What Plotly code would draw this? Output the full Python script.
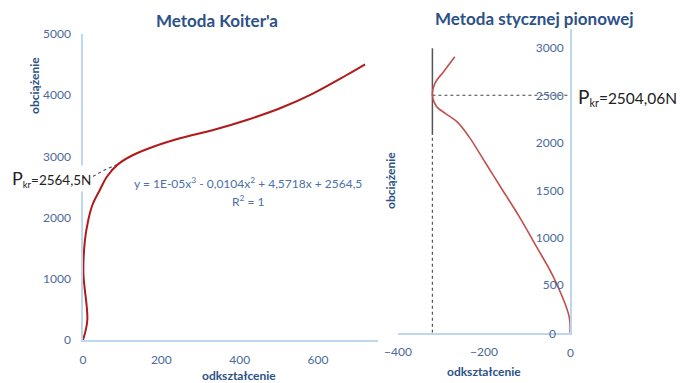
import plotly.graph_objects as go

# page body has an 8px margin, so the figure is offset by (8, 8) in the window
OFF = 8
W, H = 693 - OFF, 383 - OFF

# ---- data: left chart (Metoda Koiter'a) ----
koiter_x = [0, 11, 1, 5, 13.5, 24, 43, 60.5, 89, 128, 179.5, 247.6, 332.7, 418, 503, 588, 673, 720]
koiter_y = [0, 327, 1095, 1634, 1961, 2206, 2451, 2663, 2870, 3023, 3158, 3296, 3431, 3595, 3786, 4031, 4330, 4505]
trend_x = [0, 30, 60, 86]
trend_y = [2564.5, 2690, 2795, 2862]

# ---- data: right chart (Metoda stycznej pionowej) ----
styczna_x = [0, -2, -39, -78, -118, -157, -196, -235, -263, -290, -310, -320, -314, -294, -268]
styczna_y = [0, 169, 591, 907, 1224, 1505, 1787, 2068, 2226, 2314, 2384, 2508, 2631, 2753, 2911]
tangent_x = [-320, -320]
tangent_solid_y = [2085, 3000]
tangent_drop_y = [0, 2085]
pkr_line_x = [-320, 0]
pkr_line_y = [2504.06, 2504.06]

FONT = "Lato"
TITLE_C = "#2C5287"
TICK_C = "#4A6A9B"
AXIS_C = "#BDD7EE"

def px(x):
    return (x - OFF) / W

def py(y):
    return 1 - (y - OFF) / H

fig = go.Figure()

# left
fig.add_trace(go.Scatter(x=trend_x, y=trend_y, mode="lines",
                         line=dict(color="#555555", width=1.2, dash="dot"),
                         xaxis="x", yaxis="y", hoverinfo="skip"))
fig.add_trace(go.Scatter(x=koiter_x, y=koiter_y, mode="lines",
                         line=dict(color="#B01A1A", width=2, shape="spline", smoothing=1.0),
                         xaxis="x", yaxis="y"))

# right
fig.add_trace(go.Scatter(x=tangent_x, y=tangent_drop_y, mode="lines",
                         line=dict(color="#555555", width=1.2, dash="dot"),
                         xaxis="x2", yaxis="y2", hoverinfo="skip"))
fig.add_trace(go.Scatter(x=tangent_x, y=tangent_solid_y, mode="lines",
                         line=dict(color="#555555", width=1.5),
                         xaxis="x2", yaxis="y2", hoverinfo="skip"))
fig.add_trace(go.Scatter(x=pkr_line_x, y=pkr_line_y, mode="lines",
                         line=dict(color="#444444", width=1.1, dash="dot"),
                         xaxis="x2", yaxis="y2", hoverinfo="skip"))
fig.add_trace(go.Scatter(x=styczna_x, y=styczna_y, mode="lines",
                         line=dict(color="#C0504D", width=1.6, shape="spline", smoothing=1.0),
                         xaxis="x2", yaxis="y2"))

tickfont = dict(family=FONT, size=12, color=TICK_C)

fig.update_layout(
    width=W, height=H,
    margin=dict(l=0, r=0, t=0, b=0),
    paper_bgcolor="white", plot_bgcolor="white",
    showlegend=False,
    xaxis=dict(domain=[px(83), px(378)], range=[0, 753], dtick=200, automargin=False,
               showgrid=False, zeroline=False, showline=True, linecolor=AXIS_C, linewidth=1.5,
               ticks="outside", ticklen=8, tickcolor="rgba(0,0,0,0)", tickfont=tickfont,
               anchor="y"),
    yaxis=dict(domain=[py(340), py(34)], range=[0, 5000], dtick=1000, automargin=False,
               showgrid=False, zeroline=False, showline=True, linecolor=AXIS_C, linewidth=1.5,
               ticks="outside", ticklen=8, tickcolor="rgba(0,0,0,0)", tickfont=tickfont,
               anchor="x"),
    xaxis2=dict(domain=[px(398), px(570)], range=[-400, 0], dtick=200, automargin=False,
                showgrid=False, zeroline=False, showline=True, linecolor=AXIS_C, linewidth=1.5,
                ticks="outside", ticklen=7, tickcolor="rgba(0,0,0,0)", tickfont=tickfont,
                anchor="y2"),
    yaxis2=dict(domain=[py(332.7), py(29)], range=[0, 3203], dtick=500, automargin=False,
                side="right", ticklabelposition="inside",
                showgrid=False, zeroline=False, showline=True, linecolor=AXIS_C, linewidth=1.5,
                ticks="", ticklabelstandoff=6, tickfont=tickfont,
                anchor="x2"),
)

ann = []
def add(text, x, y, size=12, color=TITLE_C, bold=False, angle=0, xanchor="center", bg=None):
    t = f"<b>{text}</b>" if bold else text
    d = dict(text=t, x=px(x), y=py(y), xref="paper", yref="paper", showarrow=False,
             font=dict(family=FONT, size=size, color=color), textangle=angle,
             xanchor=xanchor, yanchor="middle")
    if bg:
        d["bgcolor"] = bg
    ann.append(d)

add("Metoda Koiter'a", 217, 20, size=17, bold=True)
add("Metoda stycznej pionowej", 534, 19, size=17, bold=True)
add("obciążenie", 35, 86, size=12, bold=True, angle=-90)
add("odkształcenie", 239, 375, size=12, bold=True)
add("obciążenie", 390, 181, size=12, bold=True, angle=-90)
add("odkształcenie", 484, 371, size=12, bold=True)
add("y = 1E-05x<sup>3</sup> - 0,0104x<sup>2</sup> + 4,5718x + 2564,5", 248, 183, size=12, color="#4A70A8")
add("R<sup>2</sup> = 1", 248, 201, size=12, color="#4A70A8")
add("<span style='font-size:18px'>P</span><sub>kr</sub>=2564,5N", 93, 179, size=13.5,
    color="#222222", xanchor="right", bg="white")
add("<span style='font-size:19px'>P</span><sub>kr</sub>=2504,06N", 576, 97, size=15.5,
    color="#222222", xanchor="left")
# zero tick labels of the right chart (hidden by plotly at the range edges)
add("0", 570, 352, size=12, color=TICK_C)
add("0", 558, 333, size=12, color=TICK_C, xanchor="right")

fig.update_layout(annotations=ann)
fig.write_html("out.html")
